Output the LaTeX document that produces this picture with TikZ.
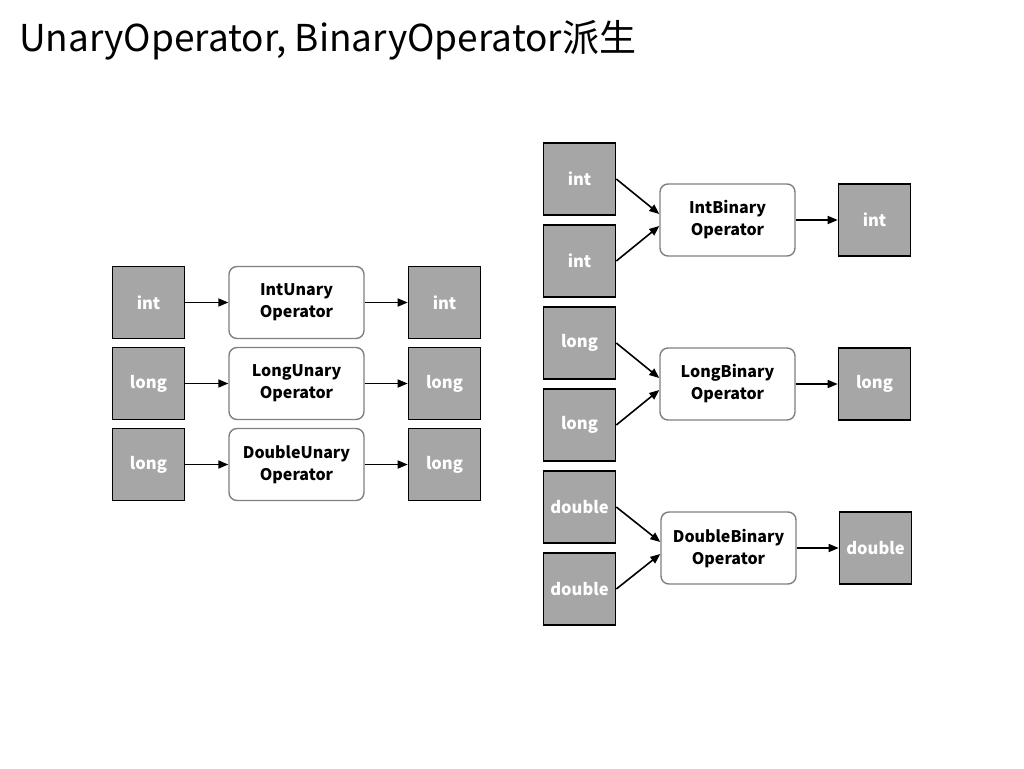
\documentclass[tikz,border=0pt]{standalone}
\usepackage{fontspec}
\setmainfont{Noto Sans CJK JP}
\usetikzlibrary{arrows.meta}
\tikzset{
  val/.style={draw=black, line width=1.6pt, fill=black!35, minimum width=72pt, minimum height=72pt, text=white, font=\fontsize{16.5}{20}\selectfont\bfseries, inner sep=0pt},
  op/.style={draw=black!50, line width=1.4pt, fill=white, rounded corners=8pt, minimum width=135pt, minimum height=72pt, align=center, font=\fontsize{16}{22}\selectfont\bfseries, inner sep=0pt},
  conn/.style={line width=1.6pt, -{Triangle[length=10pt,width=8pt]}}
}
\begin{document}
\begin{tikzpicture}[x=1pt,y=-1pt]
\useasboundingbox (0,0) rectangle (1024,768);
\node[anchor=west, font=\fontsize{37}{40}\selectfont, inner sep=0pt] (title) at (19,40) {UnaryOperator, BinaryOperator派生};
% unary
\node[val] (ui1) at (148.5,302.5) {int};
\node[op] (uo1) at (296.5,302.5) {IntUnary\\Operator};
\node[val] (uu1) at (444.5,302.5) {int};
\node[val] (ui2) at (148.5,383.5) {long};
\node[op] (uo2) at (296.5,383.5) {LongUnary\\Operator};
\node[val] (uu2) at (444.5,383.5) {long};
\node[val] (ui3) at (148.5,464.5) {long};
\node[op] (uo3) at (296.5,464.5) {DoubleUnary\\Operator};
\node[val] (uu3) at (444.5,464.5) {long};
\foreach \i in {1,2,3}{
  \draw[conn] (ui\i) -- (uo\i);
  \draw[conn] (uo\i) -- (uu\i);
}
% binary
\node[val] (ba1) at (579.5,179) {int};
\node[val] (bb1) at (579.5,261) {int};
\node[op] (bo1) at (727.5,220) {IntBinary\\Operator};
\node[val] (br1) at (874.5,220) {int};
\node[val] (ba2) at (579.5,343) {long};
\node[val] (bb2) at (579.5,425) {long};
\node[op] (bo2) at (727.5,384) {LongBinary\\Operator};
\node[val] (br2) at (874.5,384) {long};
\node[val] (ba3) at (579.5,507) {double};
\node[val] (bb3) at (579.5,589) {double};
\node[op] (bo3) at (728.5,548) {DoubleBinary\\Operator};
\node[val] (br3) at (875.5,548) {double};
\foreach \i in {1,2,3}{
  \draw[conn] (ba\i.east) -- ([yshift=6pt]bo\i.west);
  \draw[conn] (bb\i.east) -- ([yshift=-6pt]bo\i.west);
  \draw[conn] (bo\i) -- (br\i);
}
\end{tikzpicture}
\end{document}
